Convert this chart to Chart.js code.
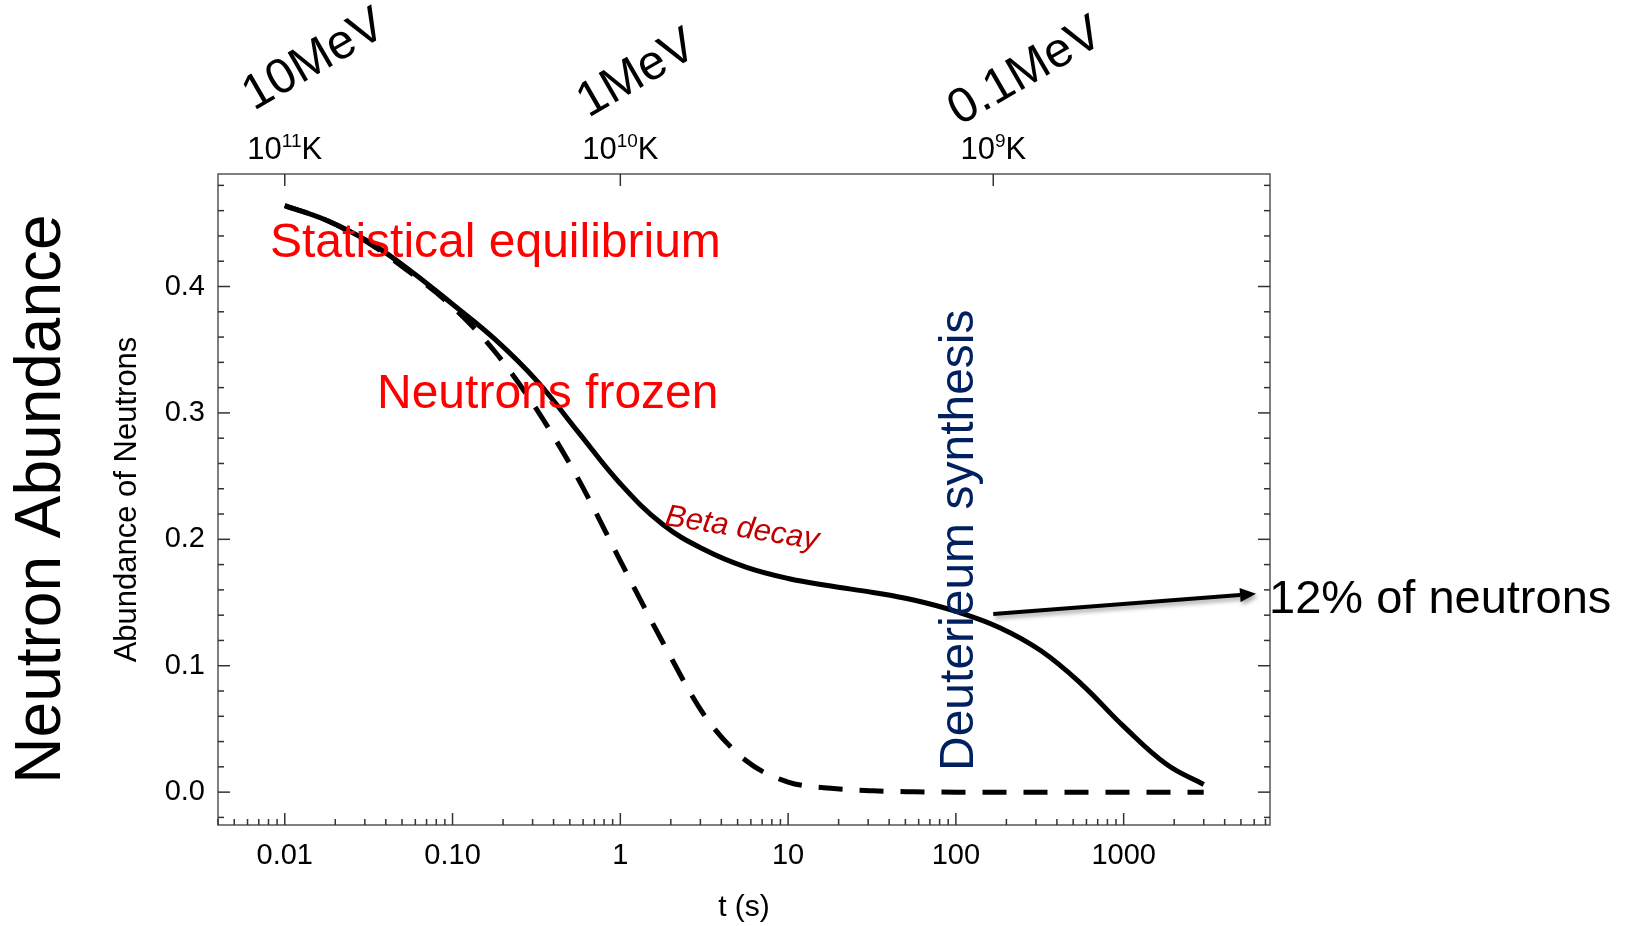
<!DOCTYPE html>
<html>
<head>
<meta charset="utf-8">
<script src="https://cdn.jsdelivr.net/npm/chart.js@4.4.1/dist/chart.umd.min.js"></script>
<style>
  body { margin: 0; background: #fff; }
  #wrap { width: 1630px; height: 926px; }
</style>
</head>
<body>
<div id="wrap"><canvas id="chart" width="1630" height="926"></canvas></div>
<script>
// time after big bang (s)
const times = [0.01, 0.018, 0.032, 0.056, 0.1, 0.18, 0.32, 0.56, 1, 1.8, 3.2, 5.6, 10, 18, 32, 56, 100, 180, 320, 560, 1000, 1800, 3000];
// neutron abundance with beta decay (solid)
const abundance = [0.464, 0.452, 0.435, 0.4125, 0.386, 0.358, 0.325, 0.285, 0.244, 0.2115, 0.1915, 0.178, 0.169, 0.163, 0.158, 0.152, 0.143, 0.1305, 0.112, 0.0855, 0.052, 0.022, 0.006];
// equilibrium abundance (dashed)
const equilibrium = [0.464, 0.452, 0.434, 0.411, 0.384, 0.348, 0.302, 0.248, 0.183, 0.118, 0.060, 0.025, 0.008, 0.003, 0.001, 0.0003, 0, 0, 0, 0, 0, 0, 0];

const xTickValues = [0.01, 0.1, 1, 10, 100, 1000];
const xTickLabels = ['0.01', '0.10', '1', '10', '100', '1000'];
const yTickValues = [0, 0.1, 0.2, 0.3, 0.4];
const yTickLabels = ['0.0', '0.1', '0.2', '0.3', '0.4'];

// temperature / energy scale along the top
const tempTimes = [0.01, 1, 167];
const tempExponents = ['11', '10', '9'];
const energyLabels = ['10MeV', '1MeV', '0.1MeV'];

// arrow pointing at the freeze-out value
const arrowFrom = [167, 0.141];
const arrowTo = [6150, 0.157];

const xMin = 0.004, xMax = 7450;
const yMin = -0.026, yMax = 0.489;

const FONT = '"Liberation Sans", Arial, sans-serif';
Chart.defaults.font.family = FONT;

function line(ctx, x1, y1, x2, y2) {
  ctx.beginPath(); ctx.moveTo(x1, y1); ctx.lineTo(x2, y2); ctx.stroke();
}

const decor = {
  id: 'decor',
  afterDraw(chart) {
    const { ctx, chartArea: a, scales: { x, y } } = chart;
    ctx.save();

    // frame
    ctx.strokeStyle = '#555';
    ctx.lineWidth = 1.5;
    ctx.strokeRect(a.left, a.top, a.right - a.left, a.bottom - a.top);

    // y ticks, both sides, pointing in
    ctx.strokeStyle = '#333';
    ctx.lineWidth = 1.5;
    for (let i = -1; i <= 24; i++) {
      const v = i * 0.02;
      if (v < yMin || v > yMax) continue;
      const py = y.getPixelForValue(v);
      const len = i % 5 === 0 ? 12 : 6;
      line(ctx, a.left, py, a.left + len, py);
      line(ctx, a.right, py, a.right - len, py);
    }
    // x ticks along the bottom
    for (let e = -3; e <= 3; e++) {
      for (let m = 1; m <= 9; m++) {
        const v = m * Math.pow(10, e);
        if (v < xMin || v > xMax) continue;
        const px = x.getPixelForValue(v);
        line(ctx, px, a.bottom, px, a.bottom - (m === 1 ? 12 : 6));
      }
    }

    // temperature ticks + labels on top
    ctx.fillStyle = '#000';
    ctx.textBaseline = 'alphabetic';
    ctx.textAlign = 'left';
    const offs = [[-31, 111], [-32, 118], [-34, 126]];
    tempTimes.forEach((t, i) => {
      const px = x.getPixelForValue(t);
      line(ctx, px, a.top, px, a.top + 12);

      ctx.font = '31px ' + FONT;
      const w1 = ctx.measureText('10').width;
      const w3 = ctx.measureText('K').width;
      ctx.font = '19px ' + FONT;
      const w2 = ctx.measureText(tempExponents[i]).width;
      let sx = px - (w1 + w2 + w3) / 2;
      const base = 159;
      ctx.font = '31px ' + FONT;
      ctx.fillText('10', sx, base);
      ctx.font = '19px ' + FONT;
      ctx.fillText(tempExponents[i], sx + w1, base - 12);
      ctx.font = '31px ' + FONT;
      ctx.fillText('K', sx + w1 + w2, base);

      ctx.save();
      ctx.translate(px + offs[i][0], offs[i][1]);
      ctx.rotate(-30 * Math.PI / 180);
      ctx.font = '49px ' + FONT;
      ctx.fillText(energyLabels[i], 0, 0);
      ctx.restore();
    });

    // annotations
    ctx.fillStyle = '#ff0000';
    ctx.font = '48px ' + FONT;
    ctx.fillText('Statistical equilibrium', 270, 257);
    ctx.fillText('Neutrons frozen', 377, 408);

    ctx.save();
    ctx.fillStyle = '#c00000';
    ctx.font = 'italic 31px ' + FONT;
    ctx.translate(664, 525);
    ctx.rotate(9 * Math.PI / 180);
    ctx.fillText('Beta decay', 0, 0);
    ctx.restore();

    ctx.save();
    ctx.fillStyle = '#002060';
    ctx.font = '48px ' + FONT;
    ctx.translate(973, 771);
    ctx.rotate(-Math.PI / 2);
    ctx.fillText('Deuterieum synthesis', 0, 0);
    ctx.restore();

    ctx.save();
    ctx.fillStyle = '#000';
    ctx.font = '64px ' + FONT;
    ctx.textAlign = 'center';
    ctx.translate(60, 499);
    ctx.rotate(-Math.PI / 2);
    ctx.fillText('Neutron Abundance', 0, 0);
    ctx.restore();

    ctx.fillStyle = '#000';
    ctx.font = '47px ' + FONT;
    ctx.fillText('12% of neutrons', 1269, 613);

    // arrow
    const x0 = x.getPixelForValue(arrowFrom[0]), y0 = y.getPixelForValue(arrowFrom[1]);
    const x1 = x.getPixelForValue(arrowTo[0]), y1 = y.getPixelForValue(arrowTo[1]);
    const ang = Math.atan2(y1 - y0, x1 - x0);
    const hl = 16, hw = 7;
    ctx.save();
    ctx.shadowColor = 'rgba(0,0,0,0.35)';
    ctx.shadowBlur = 4;
    ctx.shadowOffsetX = 2;
    ctx.shadowOffsetY = 3;
    ctx.strokeStyle = '#000';
    ctx.lineWidth = 4;
    line(ctx, x0, y0, x1 - hl * Math.cos(ang), y1 - hl * Math.sin(ang));
    ctx.beginPath();
    ctx.moveTo(x1, y1);
    ctx.lineTo(x1 - hl * Math.cos(ang) + hw * Math.sin(ang), y1 - hl * Math.sin(ang) - hw * Math.cos(ang));
    ctx.lineTo(x1 - hl * Math.cos(ang) - hw * Math.sin(ang), y1 - hl * Math.sin(ang) + hw * Math.cos(ang));
    ctx.closePath();
    ctx.fillStyle = '#000';
    ctx.fill();
    ctx.restore();

    ctx.restore();
  }
};

new Chart(document.getElementById('chart'), {
  type: 'line',
  data: {
    datasets: [{
      label: 'Abundance',
      data: times.map((t, i) => ({ x: t, y: abundance[i] })),
      borderColor: '#000',
      borderWidth: 5,
      pointRadius: 0,
      tension: 0.4
    }, {
      label: 'Equilibrium',
      data: times.map((t, i) => ({ x: t, y: equilibrium[i] })),
      borderColor: '#000',
      borderWidth: 5,
      borderDash: [24, 17],
      borderCapStyle: 'butt',
      pointRadius: 0,
      cubicInterpolationMode: 'monotone'
    }]
  },
  options: {
    responsive: false,
    animation: false,
    layout: { padding: { top: 174, right: 360, left: 0, bottom: 0 } },
    plugins: { legend: { display: false }, tooltip: { enabled: false } },
    scales: {
      x: {
        type: 'logarithmic',
        position: 'bottom',
        min: xMin,
        max: xMax,
        grid: { display: false, drawTicks: false },
        border: { display: false },
        afterBuildTicks: s => { s.ticks = xTickValues.map(v => ({ value: v })) },
        afterFit: s => { s.height = 101 },
        ticks: {
          autoSkip: false,
          maxRotation: 0,
          padding: 14,
          color: '#000',
          font: { size: 29 },
          callback: (v, i) => xTickLabels[i]
        },
        title: {
          display: true,
          text: 't (s)',
          color: '#000',
          font: { size: 30 },
          padding: { top: 0, bottom: 0 }
        }
      },
      y: {
        min: yMin,
        max: yMax,
        grid: { display: false, drawTicks: false },
        border: { display: false },
        afterBuildTicks: s => { s.ticks = yTickValues.map(v => ({ value: v })) },
        afterFit: s => { s.width = 218 },
        ticks: {
          autoSkip: false,
          padding: 13,
          color: '#000',
          font: { size: 29 },
          callback: (v, i) => yTickLabels[i]
        },
        title: {
          display: true,
          text: 'Abundance of Neutrons',
          color: '#000',
          font: { size: 31 },
          padding: { top: 109, bottom: 0 }
        }
      }
    }
  },
  plugins: [decor]
});
</script>
</body>
</html>
